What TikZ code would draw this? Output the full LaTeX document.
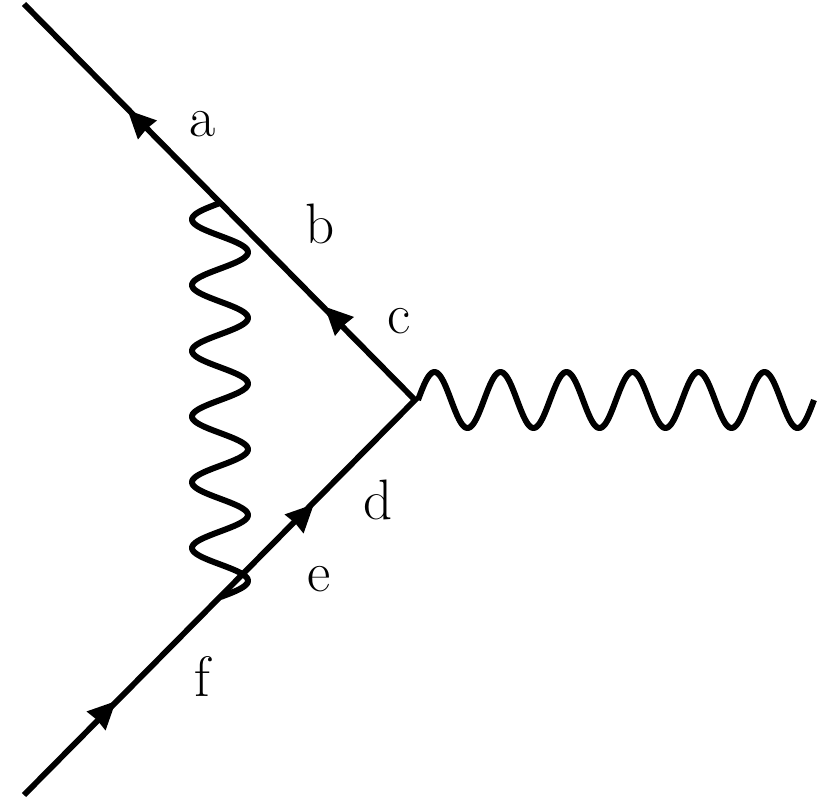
\documentclass[tikz,border=0pt]{standalone}
\tikzset{
  fermion/.style={line width=5.8pt,line cap=butt,line join=miter},
  photon/.style={line width=6pt,line join=round},
  flowtip/.style={fill=black},
  lab/.style={inner sep=0pt,anchor=base,font=\fontsize{57}{68}\selectfont}
}
\begin{document}
\begin{tikzpicture}[x=1pt,y=-1pt]
  \useasboundingbox (0,0) rectangle (827,800);
  % vertices and free ends
  \coordinate (inTop) at (24,4);
  \coordinate (loopTop) at (220,203);
  \coordinate (apex) at (415,400);
  \coordinate (inBot) at (24,795);
  \coordinate (waveStart) at (418,400);
  % fermion lines
  \draw[fermion] (inTop) -- (apex) -- (inBot);
  % flow arrows: origin at the middle of the back edge
  \foreach \x/\y/\r in {147.5/130/135, 344.5/326.5/135, 294/524/45, 96/721/45}{
    \fill[flowtip,shift={(\x,\y)},rotate=\r] (28,0) -- (0,13.5) -- (1.5,0) -- (0,-13.5) -- cycle;
  }
  % photon lines, six full periods each
  \draw[photon,shift={(loopTop)}] plot[domain=0:394,samples=300,smooth] ({-28*sin(5.4795*\x)},{\x});
  \draw[photon,shift={(waveStart)}] plot[domain=0:396,samples=300,smooth] ({\x},{-28*sin(5.4545*\x)});
  % labels
  \node[lab] (la) at (203,136) {a};
  \node[lab] (lb) at (320,243) {b};
  \node[lab] (lc) at (399,333) {c};
  \node[lab] (ld) at (378,519) {d};
  \node[lab] (le) at (319,591) {e};
  \node[lab] (lf) at (202,696) {f};
\end{tikzpicture}
\end{document}
